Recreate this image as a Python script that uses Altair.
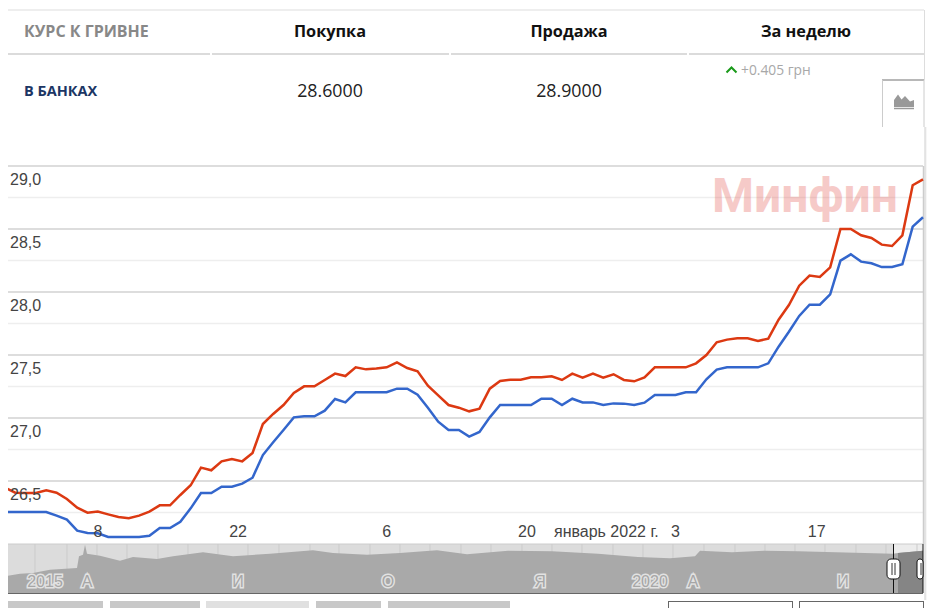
import altair as alt
import pandas as pd

# --- chart values -----------------------------------------------------------
sell = [26.447,26.407,26.405,26.405,26.426,26.407,26.357,26.288,26.249,26.257,
        26.235,26.214,26.204,26.225,26.257,26.307,26.307,26.389,26.466,26.606,
        26.585,26.656,26.675,26.656,26.722,26.952,27.032,27.103,27.198,27.251,
        27.251,27.302,27.352,27.333,27.402,27.386,27.392,27.402,27.442,27.397,
        27.370,27.257,27.180,27.103,27.082,27.053,27.074,27.233,27.294,27.304,
        27.304,27.323,27.323,27.331,27.302,27.352,27.320,27.352,27.320,27.347,
        27.302,27.291,27.323,27.402,27.402,27.402,27.402,27.434,27.500,27.601,
        27.622,27.632,27.632,27.611,27.630,27.780,27.897,28.050,28.130,28.119,
        28.196,28.500,28.500,28.450,28.429,28.376,28.365,28.450,28.847,28.894]
buy = [26.254,26.254,26.254,26.254,26.254,26.225,26.193,26.106,26.087,26.085,
       26.056,26.056,26.056,26.056,26.066,26.127,26.127,26.177,26.283,26.405,
       26.405,26.455,26.455,26.479,26.526,26.706,26.807,26.905,27.005,27.013,
       27.013,27.058,27.151,27.124,27.204,27.204,27.204,27.204,27.233,27.233,
       27.185,27.082,26.971,26.905,26.905,26.852,26.889,27.005,27.103,27.103,
       27.103,27.103,27.153,27.153,27.103,27.153,27.124,27.124,27.103,27.116,
       27.114,27.103,27.122,27.183,27.183,27.183,27.204,27.204,27.307,27.384,
       27.402,27.402,27.402,27.402,27.434,27.566,27.685,27.810,27.899,27.899,
       27.981,28.249,28.299,28.241,28.228,28.198,28.198,28.220,28.519,28.593]
major_grid = [26.5, 27.0, 27.5, 28.0, 28.5, 29.0]
minor_grid = [26.25, 26.75, 27.25, 27.75, 28.25, 28.75]
y_labels = ["26,5", "27,0", "27,5", "28,0", "28,5", "29,0"]
x_labels = ["8", "22", "6", "20", "январь 2022 г.", "3", "17"]
x_label_days = [9, 22.6, 37, 50.6, 58.3, 65, 78.7]

nav_pos = [0,15,28,45,72,74,78,80,82,95,115,128,152,168,198,228,265,308,328,362,
           395,432,462,503,547,593,633,665,690,695,727,760,793,888,893,918]
nav_val = [16.7,19.3,20,23.3,25,36.7,38.3,48.3,39.3,37.3,32.3,36,34,36.7,40.7,
           36.7,39.3,42.7,40,38.3,40,42.7,38.7,42.3,41.7,39.3,36,34.7,36.7,42.3,
           40.7,42.3,41.7,39.3,40,42.3]
nav_sel_pos = [888,893,918]
nav_labels = ["2015", "А", "И", "О", "Я", "2020", "А", "И"]
nav_label_pos = [40, 82, 233, 383, 535, 645, 688, 838]
nav_months = [30,62,92,122,153,183,213,243,274,305,334,365,395,425,456,486,517,547,
              577,608,638,668,699,730,760,790,820,851,881,912]

# --- layout helpers (page pixels; the page has an 8px margin) ----------------
ONE = pd.DataFrame({"a": [0]})
def X(v): return alt.value(v - 8)
def Y(v): return alt.value(v - 8)

def rect(x1, x2, y1, y2, color, **kw):
    return alt.Chart(ONE).mark_rect(color=color, **kw).encode(x=X(x1), x2=X(x2), y=Y(y1), y2=Y(y2))

def hline(x1, x2, y, color, w=1):
    return alt.Chart(ONE).mark_rule(color=color, strokeWidth=w).encode(x=X(x1), x2=X(x2), y=Y(y))

def vline(x, y1, y2, color, w=1):
    return alt.Chart(ONE).mark_rule(color=color, strokeWidth=w).encode(x=X(x), y=Y(y1), y2=Y(y2))

def text(s, x, y, size=14, color="#000", font="Open Sans", weight="normal", align="center", **kw):
    return alt.Chart(ONE).mark_text(text=s, fontSize=size, color=color, font=font, fontWeight=weight,
                                    align=align, baseline="middle", **kw).encode(x=X(x), y=Y(y + 1))

def glyph(path, x, y, size, **kw):
    return alt.Chart(ONE).mark_point(shape=path, size=size, **kw).encode(x=X(x), y=Y(y))

# --- scales ------------------------------------------------------------------
x_scale = alt.Scale(domain=[0, 89], range=[5 - 8, 923 - 8], nice=False, zero=False)
y_scale = alt.Scale(domain=[26, 29], range=[544 - 8, 166 - 8], nice=False, zero=False)
nx_scale = alt.Scale(domain=[0, 918], range=[5 - 8, 923 - 8], nice=False, zero=False)
ny_scale = alt.Scale(domain=[0, 49], range=[593 - 8, 544 - 8], nice=False, zero=False)

layers = []
# page pieces
layers += [rect(925, 935, 127, 600, "#f6f6f6"), vline(925, 127, 600, "#cfcfcf")]
# header table
layers += [
    hline(5, 210, 54, "#b8b8b8", 1.2), hline(212, 449, 54, "#b8b8b8", 1.2),
    hline(451, 687, 54, "#b8b8b8", 1.2), hline(689, 924, 54, "#b8b8b8", 1.2),
    hline(8, 924, 10, "#dddddd"), vline(924.5, 10, 80, "#dddddd"),
    text("КУРС К ГРИВНЕ", 24, 31, 16, "#888888", weight="bold", align="left"),
    text("Покупка", 330, 31, 16.3, "#111111", weight="bold"),
    text("Продажа", 569, 31, 16.3, "#111111", weight="bold"),
    text("За неделю", 806, 31, 16.3, "#111111", weight="bold"),
    text("В БАНКАХ", 24, 91, 14.5, "#1c3664", weight="bold", align="left"),
    text("28.6000", 330, 91, 17.8, "#222222"),
    text("28.9000", 569, 91, 17.8, "#222222"),
    text("+0.405 грн", 741, 70, 13.8, "#a8a8a8", align="left"),
    glyph("M-1,0.5 L0,-0.5 L1,0.5", 731.5, 70, 100, filled=False, stroke="#1a9a1a", strokeWidth=2, opacity=1),
    hline(882, 924, 80, "#a0a0a0", 1.5), vline(882.5, 80, 127, "#cccccc"), vline(924, 80, 127, "#cccccc"),
    glyph("M-1,0.6 L-1,-0.1 L-0.6,-0.65 L-0.25,-0.15 L0.1,-0.5 L0.6,0.05 L1,-0.1 L1,0.6 Z", 904, 101, 400,
          filled=True, color="#999999", opacity=1),
    hline(894, 914, 108.5, "#999999", 1.5),
]
# grid
grid_min = pd.DataFrame({"v": minor_grid})
grid_maj = pd.DataFrame({"v": major_grid, "t": y_labels})
layers += [
    alt.Chart(grid_min).mark_rule(color="#eeeeee", strokeWidth=1.5).encode(
        y=alt.Y("v:Q", scale=y_scale, axis=None), x=X(5), x2=X(923)),
    alt.Chart(grid_maj).mark_rule(color="#d2d2d2", strokeWidth=1.5).encode(
        y=alt.Y("v:Q", scale=y_scale, axis=None), x=X(5), x2=X(923)),
    vline(923.5, 166, 544, "#cccccc", 1.5),
    text("Минфин", 805, 197, 48, "#e3534c", font="Roboto", weight="bold", opacity=0.3),
]
# series
for vals, col in ((sell, "#dc3912"), (buy, "#3366cc")):
    d = pd.DataFrame({"day": range(len(vals)), "v": vals})
    layers.append(alt.Chart(d).mark_line(color=col, strokeWidth=2.5, interpolate="linear").encode(
        x=alt.X("day:Q", scale=x_scale, axis=None), y=alt.Y("v:Q", scale=y_scale, axis=None)))
# labels
layers.append(alt.Chart(grid_maj).mark_text(align="left", font="Liberation Sans", fontSize=16, color="#444444",
                                            baseline="middle", dy=14).encode(
    x=X(10), y=alt.Y("v:Q", scale=y_scale, axis=None), text="t:N"))
xl = pd.DataFrame({"d": x_label_days, "t": x_labels})
layers.append(alt.Chart(xl).mark_text(font="Liberation Sans", fontSize=16, color="#444444", baseline="middle").encode(
    x=alt.X("d:Q", scale=x_scale, axis=None), y=Y(532), text="t:N"))
# navigator
nav = pd.DataFrame({"p": nav_pos, "v": nav_val})
months = pd.DataFrame({"p": nav_months})
sel = nav[nav.p.isin(nav_sel_pos[1:])]
labs = pd.DataFrame({"p": nav_label_pos, "t": nav_labels})
layers += [
    rect(5, 923, 544, 593, "#dcdcdc"),
    rect(893, 923, 544, 593, "#ececec"),
    alt.Chart(months).mark_rule(color="#cbcbcb", strokeWidth=1).encode(
        x=alt.X("p:Q", scale=nx_scale, axis=None), y=Y(544), y2=Y(593)),
    alt.Chart(nav).mark_area(color="#a9a9a9", opacity=1).encode(
        x=alt.X("p:Q", scale=nx_scale, axis=None),
        y=alt.Y("v:Q", scale=ny_scale, axis=None), y2=alt.Y2(datum=0)),
    alt.Chart(sel).mark_area(color="#858585", opacity=1).encode(
        x=alt.X("p:Q", scale=nx_scale, axis=None),
        y=alt.Y("v:Q", scale=ny_scale, axis=None), y2=alt.Y2(datum=0)),
    alt.Chart(labs).mark_text(font="Liberation Sans", fontSize=16, color="#a6a6a6", stroke="#e2e2e2", strokeWidth=3, baseline="middle").encode(
        x=alt.X("p:Q", scale=nx_scale, axis=None), y=Y(582), text="t:N"),
    alt.Chart(labs).mark_text(font="Liberation Sans", fontSize=16, color="#a6a6a6", baseline="middle").encode(
        x=alt.X("p:Q", scale=nx_scale, axis=None), y=Y(582), text="t:N"),
    hline(5, 923, 593.5, "#666666", 1.2),
    hline(5, 923, 544, "#cccccc", 1),
    vline(893.5, 544, 593, "#111111", 1), vline(923, 544, 593, "#111111", 1),
    rect(887, 900, 559, 579, "#ffffff", stroke="#111111", strokeWidth=1, cornerRadius=4),
    vline(892, 563, 575, "#333333", 1), vline(895, 563, 575, "#333333", 1),
    rect(917, 923, 559, 579, "#ffffff", stroke="#111111", strokeWidth=1, cornerRadius=3),
    vline(921, 563, 575, "#333333", 1),
]
# page footer boxes
for x1, x2, c in ((5, 103, "#c8c8c8"), (110, 200, "#c8c8c8"), (206, 309, "#e0e0e0"),
                  (316, 381, "#c8c8c8"), (388, 510, "#c8c8c8")):
    layers.append(rect(x1, x2, 601, 608, c))
for x1, x2 in ((668.5, 792.5), (799.5, 923.5)):
    layers += [hline(x1, x2, 601.5, "#666666"), vline(x1, 601, 608, "#666666"), vline(x2, 601, 608, "#666666")]

chart = alt.layer(*layers).resolve_scale(x="independent", y="independent").properties(
    width=919, height=600, padding=0, autosize=alt.AutoSizeParams(type="none")
).configure_view(stroke=None)

chart.save("out.html", embed_options={"renderer": "svg", "actions": False})
